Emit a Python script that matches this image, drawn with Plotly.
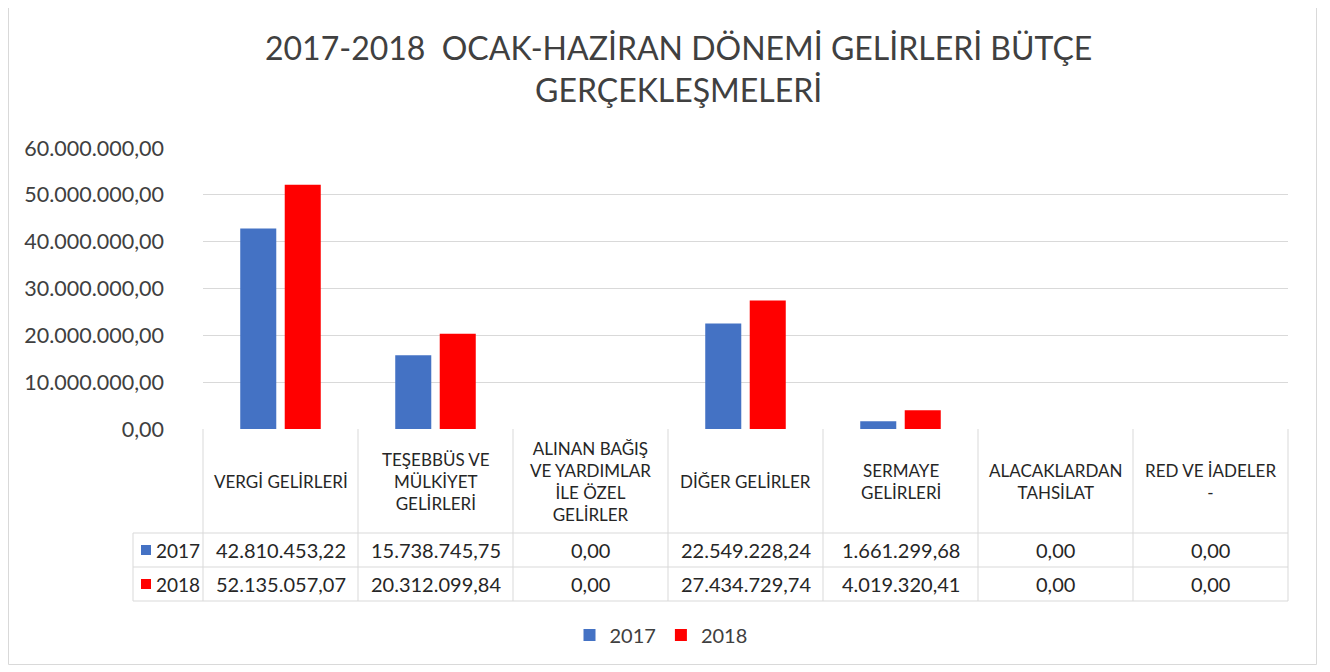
import plotly.graph_objects as go

categories = ["VERGİ GELİRLERİ", "TEŞEBBÜS VE MÜLKİYET GELİRLERİ",
              "ALINAN BAĞIŞ VE YARDIMLAR İLE ÖZEL GELİRLER", "DİĞER GELİRLER",
              "SERMAYE GELİRLERİ", "ALACAKLARDAN TAHSİLAT", "RED VE İADELER -"]
header_labels = ["VERGİ GELİRLERİ", "TEŞEBBÜS VE<br>MÜLKİYET<br>GELİRLERİ",
                 "ALINAN BAĞIŞ<br>VE YARDIMLAR<br>İLE ÖZEL<br>GELİRLER", "DİĞER GELİRLER",
                 "SERMAYE<br>GELİRLERİ", "ALACAKLARDAN<br>TAHSİLAT", "RED VE İADELER<br>-"]
values_2017 = [42810453.22, 15738745.75, 0.00, 22549228.24, 1661299.68, 0.00, 0.00]
values_2018 = [52135057.07, 20312099.84, 0.00, 27434729.74, 4019320.41, 0.00, 0.00]
series_names = ["2017", "2018"]
colors = ["#4472C4", "#FF0000"]

title_text = "2017-2018  OCAK-HAZİRAN DÖNEMİ GELİRLERİ BÜTÇE<br>GERÇEKLEŞMELERİ"

FONT = "Lato"
TXT = "#404040"
DARK = "#262626"
GRID = "#d9d9d9"

# page has an 8px body margin: figure drawn 8px smaller, coordinates below are page pixels
OFF = 8
W, H = 1330 - OFF, 672 - OFF
L, R, T, B = 203, 1288, 148, 429
n = len(categories)
colw = (R - L) / n


def py(ypix):
    return (B - ypix) / (B - T)


def pxp(xpix):
    return (xpix - L) / (R - L)


def tr_fmt(v):
    s = f"{v:,.2f}"
    return s.replace(",", "X").replace(".", ",").replace("X", ".")


fig = go.Figure()
for name, vals, c in zip(series_names, [values_2017, values_2018], colors):
    fig.add_trace(go.Bar(x=list(range(n)), y=vals, name=name, marker_color=c,
                         marker_line_width=0))

shapes = []
annotations = []
line = dict(color=GRID, width=1)
hdr_bot, r1_bot, r2_bot = 533, 567, 601
left_col = 133
for yy in [hdr_bot, r1_bot, r2_bot]:
    shapes.append(dict(type="line", xref="paper", yref="paper", x0=pxp(left_col), x1=pxp(R),
                       y0=py(yy), y1=py(yy), line=line))
for i in range(n + 1):
    xx = L + i * colw
    shapes.append(dict(type="line", xref="paper", yref="paper", x0=pxp(xx), x1=pxp(xx),
                       y0=py(B), y1=py(r2_bot), line=line))
shapes.append(dict(type="line", xref="paper", yref="paper", x0=pxp(left_col), x1=pxp(left_col),
                   y0=py(hdr_bot), y1=py(r2_bot), line=line))
# outer chart border
shapes.append(dict(type="rect", xref="paper", yref="paper", x0=pxp(8.5), x1=pxp(1316.5),
                   y0=py(664.5), y1=py(4.5), line=dict(color=GRID, width=1)))

for i, lab in enumerate(header_labels):
    annotations.append(dict(x=i, y=py((B + hdr_bot) / 2), xref="x", yref="paper",
                            text=lab, showarrow=False, align="center",
                            font=dict(family=FONT, size=17, color=DARK),
                            xanchor="center", yanchor="middle"))
rows = [(values_2017, (hdr_bot + r1_bot) / 2), (values_2018, (r1_bot + r2_bot) / 2)]
for (vals, yc), name, c in zip(rows, series_names, colors):
    for i, v in enumerate(vals):
        annotations.append(dict(x=i, y=py(yc), xref="x", yref="paper", text=tr_fmt(v),
                                showarrow=False, font=dict(family=FONT, size=20, color=DARK),
                                xanchor="center", yanchor="middle"))
    # legend key swatch in the table row
    shapes.append(dict(type="rect", xref="paper", yref="paper",
                       x0=pxp(left_col + 8), x1=pxp(left_col + 18),
                       y0=py(yc + 5), y1=py(yc - 5), fillcolor=c, line=dict(width=0)))
    annotations.append(dict(x=pxp(left_col + 21), y=py(yc), xref="paper", yref="paper",
                            text=name, showarrow=False,
                            font=dict(family=FONT, size=19, color=DARK),
                            xanchor="left", yanchor="middle"))

annotations.append(dict(x=pxp(678), y=py(68), xref="paper", yref="paper",
                        text=title_text, showarrow=False, align="center",
                        font=dict(family=FONT, size=32, color=TXT),
                        xanchor="center", yanchor="middle"))

fig.update_layout(
    width=W, height=H,
    margin=dict(l=L - OFF, r=W - (R - OFF), t=T - OFF, b=H - (B - OFF), pad=0),
    paper_bgcolor="white", plot_bgcolor="white",
    separators=",.",
    barmode="group", bargap=0.426, bargroupgap=0.19,
    shapes=shapes, annotations=annotations,
    showlegend=True,
    legend=dict(orientation="h", x=pxp(661), y=py(635), xanchor="center",
                yanchor="middle", font=dict(family=FONT, size=20, color=TXT),
                itemwidth=30, traceorder="normal"),
    font=dict(family=FONT, color=TXT),
)
fig.update_xaxes(range=[-0.5, n - 0.5], showticklabels=False, showgrid=False,
                 zeroline=False, showline=False, ticks="", fixedrange=True)
fig.update_yaxes(range=[0, 60000000], dtick=10000000, tickformat=",.2f",
                 showgrid=True, gridcolor=GRID, gridwidth=1, zeroline=False,
                 showline=False, ticklabelstandoff=38,
                 tickfont=dict(family=FONT, size=21.5, color=TXT))

fig.write_html("out.html")
